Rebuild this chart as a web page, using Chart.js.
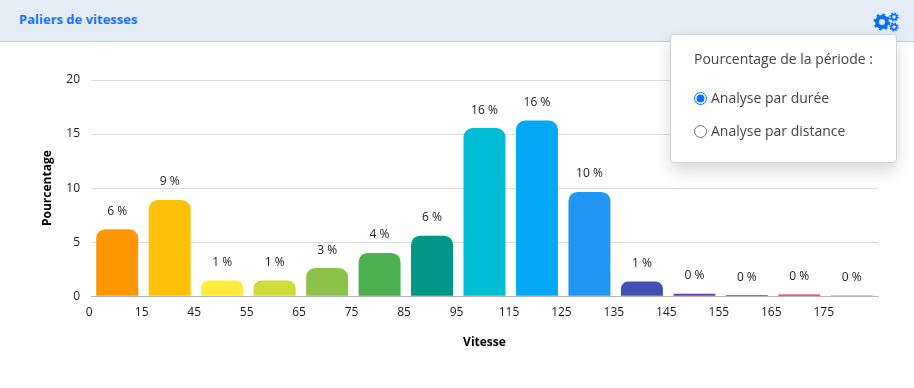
<!DOCTYPE html>
<html>
<head>
<meta charset="utf-8">
<script src="https://cdn.jsdelivr.net/npm/chart.js@4"></script>
<style>
    html, body { margin: 0; padding: 0; width: 914px; height: 388px; overflow: hidden; background: #fff; font-family: "Open Sans", sans-serif; }
    #plot { position: absolute; left: 0; top: 0; }
    .entete { position: absolute; left: 0; top: 0; width: 914px; height: 41px; background: #e4ecf5; border-bottom: 1px solid #c6ced6; }
    .entete h1 { position: absolute; left: 19px; top: 10px; margin: 0; font-size: 13px; line-height: 18px; font-weight: 700; color: #1a73f8; }
    .entete svg { position: absolute; left: 872px; top: 10px; }
    .panneau { position: absolute; left: 670px; top: 34px; width: 225px; height: 127px; background: #fff; border: 1px solid #cfd3d7; border-radius: 4px; box-shadow: 0 8px 16px rgba(0,0,0,.15); color: #444; font-size: 14px; }
    .panneau p { position: absolute; left: 23px; top: 14px; margin: 0; line-height: 20px; white-space: nowrap; }
    .panneau label { position: absolute; left: 23px; white-space: nowrap; line-height: 20px; }
    .panneau input { margin: 0 4px 0 0; width: 13px; height: 13px; vertical-align: -2px; accent-color: #0d6efd; }
</style>
</head>
<body>
<canvas id="plot" width="914" height="388"></canvas>
<div class="entete">
    <h1>Paliers de vitesses</h1>
    <svg width="30" height="24" viewBox="0 0 30 24" fill="none" stroke="#0d6efd">
        <circle cx="10" cy="12" r="5" stroke-width="4"/>
        <circle cx="10" cy="12" r="7.2" stroke-width="2.6" stroke-dasharray="2.8 2.85"/>
        <circle cx="22" cy="7" r="2.6" stroke-width="1.8"/>
        <circle cx="22" cy="7" r="4" stroke-width="1.3" stroke-dasharray="1.6 1.54"/>
        <circle cx="22" cy="17" r="2.6" stroke-width="1.8"/>
        <circle cx="22" cy="17" r="4" stroke-width="1.3" stroke-dasharray="1.6 1.54"/>
    </svg>
</div>
<div class="panneau">
    <p>Pourcentage de la période :</p>
    <label style="top:53px"><input type="radio" name="analyse" checked>Analyse par durée</label>
    <label style="top:86px"><input type="radio" name="analyse">Analyse par distance</label>
</div>
<script>
const paliers = ["0", "15", "45", "55", "65", "75", "85", "95", "115", "125", "135", "145", "155", "165", "175"];
const pourcentages = [6.2, 8.9, 1.45, 1.45, 2.6, 4.0, 5.6, 15.55, 16.25, 9.65, 1.35, 0.23, 0.1, 0.15, 0.08];
const etiquettes = ["6 %", "9 %", "1 %", "1 %", "3 %", "4 %", "6 %", "16 %", "16 %", "10 %", "1 %", "0 %", "0 %", "0 %", "0 %"];
const couleurs = ["#ff9800", "#ffc107", "#ffeb3b", "#cddc39", "#8bc34a", "#4caf50", "#009688", "#00bcd4", "#03a9f4", "#2196f3", "#3f51b5", "#673ab7", "#9c27b0", "#e91e63", "#e57373"];
const police = '"Open Sans", sans-serif';

// texte au-dessus de chaque barre
const etiquettesPlugin = {
    id: "etiquettes",
    afterDatasetsDraw(chart) {
        const ctx = chart.ctx;
        ctx.save();
        ctx.font = "12px " + police;
        ctx.fillStyle = "#1a1a1a";
        ctx.textAlign = "center";
        ctx.textBaseline = "middle";
        chart.getDatasetMeta(0).data.forEach((barre, i) => {
            ctx.fillText(etiquettes[i], barre.x, barre.y - 18);
        });
        ctx.restore();
    }
};

new Chart(document.getElementById("plot"), {
    type: "bar",
    data: {
        labels: paliers,
        datasets: [{
            data: pourcentages,
            backgroundColor: couleurs,
            borderWidth: 0,
            borderRadius: { topLeft: 9, topRight: 9 },
            borderSkipped: "bottom",
            barPercentage: 0.8,
            categoryPercentage: 1
        }]
    },
    options: {
        responsive: false,
        animation: false,
        layout: { padding: { top: 80, right: 36, bottom: 38, left: 40 } },
        plugins: { legend: { display: false }, tooltip: { enabled: false } },
        scales: {
            x: {
                grid: { display: false },
                border: { color: "#b5b5b5" },
                ticks: { color: "#1a1a1a", font: { family: police, size: 12 }, labelOffset: -28, maxRotation: 0, autoSkip: false, padding: 1 },
                title: { display: true, text: "Vitesse", color: "#000", font: { family: police, size: 12, weight: "bold" }, padding: { top: 15, bottom: 0 } }
            },
            y: {
                min: 0,
                max: 20,
                afterFit(axis) { axis.width = 51; },
                grid: { color: "#dcdcdc", drawTicks: false },
                border: { display: false },
                ticks: { stepSize: 5, color: "#1a1a1a", font: { family: police, size: 12 }, padding: 11 },
                title: { display: true, text: "Pourcentage", color: "#000", font: { family: police, size: 12, weight: "bold" }, padding: 0 }
            }
        }
    },
    plugins: [etiquettesPlugin]
});
</script>
</body>
</html>
